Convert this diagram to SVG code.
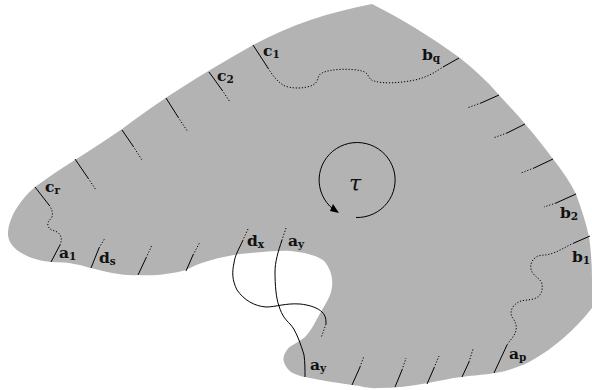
<svg xmlns="http://www.w3.org/2000/svg" width="592" height="390" viewBox="0 0 592 390">
<style>
.s{fill:none;stroke:#000;stroke-width:1}
.d{fill:none;stroke:#000;stroke-width:1;stroke-dasharray:1.2 1.8}
text{font-family:"DejaVu Serif","Liberation Serif",serif;font-weight:bold;font-size:15.500px;fill:#111}
.u{font-size:10.500px}
</style>
<rect width="592" height="390" fill="#fff"/>
<path id="surface" fill="#b3b3b3" d="M372 4C330 12 290 25 253 45C205 72 160 100 122 129C95 148 65 165 35 187C20 200 8 218 8 235C9 250 30 260 51 262C70 262 80 265 91 268C110 273 125 276 138 275C155 276 172 274 186 270C200 262 220 257 240 254C262 252 280 250 291 251C310 253 322 258 325 262C331 270 333 278 332 287C331 296 326 303 322 310C316 320 312 330 305 337C297 344 290 345 287 350C283 355 283 360 284 362C286 368 290 372 295 374C300 376 303 377 305 377C320 380 337 383 352 385C362 386 370 389 377 388C395 388 412 386 428 383C440 381 450 378 462 377C475 375 485 375 494 373C505 372 515 368 525 364C550 352 575 330 592 308L592 280C592 265 591 250 589 237C586 222 581 208 576 194C570 182 562 170 553 159C544 147 535 135 525 124C517 114 508 105 499 95C487 81 474 69 460 58C430 36 400 18 372 4Z"/>
<g id="connectors">
<path class="s" d="M35 187L49 205"/>
<path class="d" d="M49 205C52 209 53 213 52 217C50 220 47 222 48 226C50 231 54 230 57 232C62 235 62 240 60 245"/>
<path class="s" d="M60 245L51 262"/>
<path class="s" d="M91 268L99 248"/><path class="d" d="M99 248L105 238"/>
<path class="s" d="M138 275L146 258"/><path class="d" d="M146 258L152 245"/>
<path class="s" d="M186 271L193 255"/><path class="d" d="M193 255L200 242"/>
<path class="s" d="M75 159L88 178"/><path class="d" d="M88 178L96 190"/>
<path class="s" d="M122 130L133 146"/><path class="d" d="M133 146L142 160"/>
<path class="s" d="M166 98L178 117"/><path class="d" d="M178 117L188 132"/>
<path class="s" d="M209 72L222 90"/><path class="d" d="M222 90L230 102"/>
<path class="s" d="M253 45L268 68"/>
<path class="d" d="M268 68C273 76 277 81 283 85C290 89 305 89 313 85C320 81 316 76 322 73C330 69 350 68 362 71C370 73 367 79 374 81C384 84 400 83 415 80C428 77 437 71 443 67"/>
<path class="s" d="M443 67L459 58"/>
<path class="s" d="M499 95L481 103"/><path class="d" d="M481 103L467 108"/>
<path class="s" d="M525 124L507 133"/><path class="d" d="M507 133L493 138"/>
<path class="s" d="M553 159L534 168"/><path class="d" d="M534 168L521 173"/>
<path class="s" d="M576 194L556 203"/><path class="d" d="M556 203L544 207"/>
<path class="s" d="M590 236L574 243"/>
<path class="d" d="M574 243C565 247 558 252 550 254C544 256 539 254 535 258C530 262 530 268 532 272C535 277 541 279 542 284C543 290 541 296 536 298C530 301 522 299 517 303C511 307 510 313 512 317C515 321 517 325 516 330C515 336 510 340 507 345"/>
<path class="s" d="M507 345L494 373"/>
<path class="s" d="M352 385L360 367"/><path class="d" d="M360 367L364 356"/>
<path class="s" d="M395 387L402 370"/><path class="d" d="M402 370L406 358"/>
<path class="s" d="M427 384L434 368"/><path class="d" d="M434 368L439 356"/>
<path class="s" d="M462 377L469 362"/><path class="d" d="M469 362L473 349"/>
<path class="d" d="M248 229L243 240"/>
<path class="s" d="M243 240C239 249 235 255 234 263C232 272 232 280 237 290C244 300 254 306 266 307C276 307 285 303 300 304C310 305 318 308 322 312C326 316 326 320 326 324"/>
<path class="d" d="M326 324L321 338"/>
<path class="d" d="M286 228L282 240"/>
<path class="s" d="M282 240C278 252 275 262 275 272C275 285 276 298 279 306C282 316 286 320 290 324C296 330 301 345 304 355C305 362 305 370 305 377"/>
<path class="s" d="M356 217.500A38 37.500 0 1 0 333 209"/>
<path d="M339 213L330 211L333 204Z" fill="#000"/>
</g>
<text x="349" y="191" style="font-family:'DejaVu Serif',serif;font-style:italic;font-weight:normal;font-size:22px">τ</text>
<text x="45" y="192">c<tspan class="u" dy="2">r</tspan></text>
<text x="59" y="258">a<tspan class="u" dy="2">1</tspan></text>
<text x="99" y="263">d<tspan class="u" dy="2">s</tspan></text>
<text x="263" y="56">c<tspan class="u" dy="2">1</tspan></text>
<text x="217" y="81">c<tspan class="u" dy="2">2</tspan></text>
<text x="422" y="60">b<tspan class="u" dy="2">q</tspan></text>
<text x="560" y="218">b<tspan class="u" dy="2">2</tspan></text>
<text x="572" y="262">b<tspan class="u" dy="2">1</tspan></text>
<text x="509" y="359">a<tspan class="u" dy="2">p</tspan></text>
<text x="310" y="370">a<tspan class="u" dy="2">y</tspan></text>
<text x="288" y="246">a<tspan class="u" dy="2">y</tspan></text>
<text x="247" y="246">d<tspan class="u" dy="2">x</tspan></text>
</svg>
